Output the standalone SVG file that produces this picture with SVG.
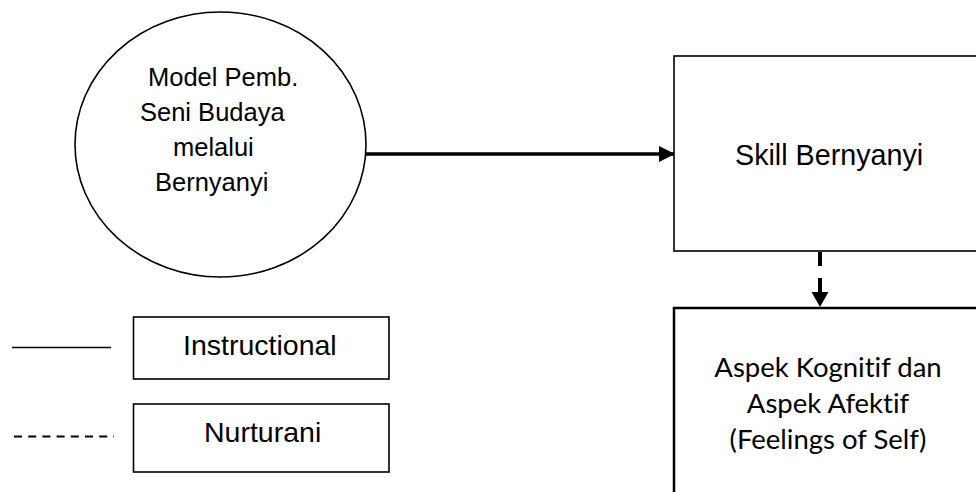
<svg xmlns="http://www.w3.org/2000/svg" width="976" height="492" viewBox="0 0 976 492">
<style>
.a{font-family:"Liberation Sans",Arial,sans-serif;fill:#000}
.c{font-family:Lato,"Open Sans",sans-serif;fill:#000;font-variant-ligatures:none;font-feature-settings:"liga" 0,"dlig" 0}
.s{fill:#fff;stroke:#000}
</style>
<defs>
<marker id="ah" markerWidth="16" markerHeight="16" refX="15" refY="8" orient="auto" markerUnits="userSpaceOnUse">
<path d="M0,0 L16,8 L0,16 Z" fill="#000"/>
</marker>
</defs>
<rect width="976" height="492" fill="#fff"/>
<g id="model">
<ellipse class="s" cx="220.5" cy="144.5" rx="145.5" ry="132.5" stroke-width="1.6"/>
<text class="a" font-size="25.5" x="148" y="86">Model Pemb.</text>
<text class="a" font-size="25.5" x="140" y="121">Seni Budaya</text>
<text class="a" font-size="25.5" x="173" y="156">melalui</text>
<text class="a" font-size="25.5" x="155" y="191">Bernyanyi</text>
</g>
<g id="skill">
<rect class="s" x="674" y="56" width="320" height="195" stroke-width="1.6"/>
<text class="a" font-size="28.7" x="735" y="165">Skill Bernyanyi</text>
</g>
<g id="aspek">
<rect class="s" x="674" y="308" width="320" height="200" stroke-width="2.5"/>
<g class="c" font-size="27.5" text-anchor="middle">
<text x="828" y="377">Aspek Kognitif dan</text>
<text x="828" y="413">Aspek Afektif</text>
<text x="828" y="449">(Feelings of Self)</text>
</g>
</g>
<g id="legend-instructional">
<line x1="12" y1="347.5" x2="111" y2="347.5" stroke="#000" stroke-width="1.6"/>
<rect class="s" x="133.5" y="317" width="255.5" height="62" stroke-width="1.6"/>
<text class="a" font-size="28.5" x="183" y="355">Instructional</text>
</g>
<g id="legend-nurturani">
<line x1="14" y1="436.5" x2="114" y2="436.5" stroke="#000" stroke-width="1.8" stroke-dasharray="8 6.2"/>
<rect class="s" x="133.5" y="404" width="255.5" height="68" stroke-width="1.6"/>
<text class="a" font-size="28.5" x="204" y="442">Nurturani</text>
</g>
<g id="connectors">
<line x1="366" y1="154" x2="674" y2="154" stroke="#000" stroke-width="3.5" marker-end="url(#ah)"/>
<line x1="820" y1="252" x2="820" y2="293" stroke="#000" stroke-width="4" stroke-dasharray="14 12"/>
<path d="M811.5,292 L828.5,292 L820,307 Z" fill="#000"/>
</g>
</svg>
